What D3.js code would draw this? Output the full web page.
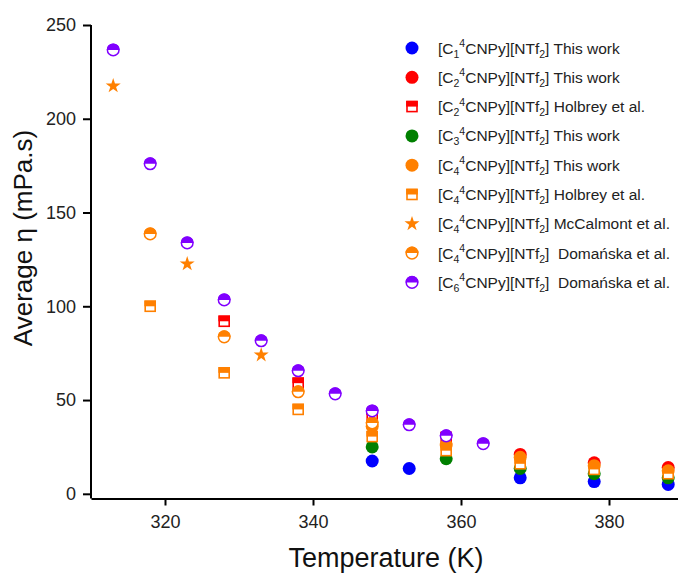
<!DOCTYPE html>
<html>
<head>
    <meta charset="utf-8">
    <style>
        body { margin: 0; background: white; }
        svg { font-family: 'Liberation Sans', Arial, sans-serif; }
    </style>
</head>
<body>
    <svg width="678" height="576"></svg>

<script src="https://d3js.org/d3.v7.min.js"></script>
<script>
    // values: [temperature K, viscosity mPa.s]
    let c1This = [[348, 17.5], [353, 13.5], [368, 8.5], [378, 6.5], [388, 5]]
    let c2This = [[368, 21], [378, 16.5], [388, 14]]
    let c2Holbrey = [[328, 92], [338, 59], [348, 42], [358, 30]]
    let c3This = [[348, 25], [358, 18.7], [368, 13.5], [378, 10.7], [388, 8.5]]
    let c4This = [[348, 36], [358, 26], [368, 19.5], [378, 15], [388, 12.3]]
    let c4Holbrey = [[318, 100], [328, 64.5], [338, 45], [348, 30.5], [358, 23], [368, 16], [378, 13], [388, 10.7]]
    let c4McCalmont = [[313, 217.5], [323, 122.6], [333, 74]]
    let c4Domanska = [[318, 138.6], [328, 83.7], [338, 54.4], [348, 37.8]]
    let c6Domanska = [[313, 236.7], [318, 176], [323, 133.8], [328, 103.4], [333, 81.6], [338, 65.6], [343, 53.3], [348, 44.2], [353, 36.8], [358, 30.9], [363, 26.7]]

    let xTicks = [320, 340, 360, 380]
    let yTicks = [0, 50, 100, 150, 200, 250]

    let series = [
        { n: "1", src: "This work", data: c1This, color: "#0000ff", shape: "circle" },
        { n: "2", src: "This work", data: c2This, color: "#ff0000", shape: "circle" },
        { n: "2", src: "Holbrey et al.", data: c2Holbrey, color: "#ff0000", shape: "halfsquare" },
        { n: "3", src: "This work", data: c3This, color: "#008000", shape: "circle" },
        { n: "4", src: "This work", data: c4This, color: "#ff8000", shape: "circle" },
        { n: "4", src: "Holbrey et al.", data: c4Holbrey, color: "#ff8000", shape: "halfsquare" },
        { n: "4", src: "McCalmont et al.", data: c4McCalmont, color: "#ff8000", shape: "star" },
        { n: "4", src: "\u00a0Domańska et al.", data: c4Domanska, color: "#ff8000", shape: "halfcircle" },
        { n: "6", src: "\u00a0Domańska et al.", data: c6Domanska, color: "#8000ff", shape: "halfcircle" }
    ]

    let svg = d3.select("svg")

    let x = d3.scaleLinear().domain([310, 390]).range([91, 683])
    let y = d3.scaleLinear().domain([-2.5, 250]).range([498.5, 25])

    // axes
    let xAxis = svg.append("g")
        .attr("transform", "translate(0," + y(-2.5) + ")")
        .call(d3.axisBottom(x).tickValues(xTicks).tickSize(7).tickSizeOuter(0).tickPadding(10))
    let yAxis = svg.append("g")
        .attr("transform", "translate(" + x(310) + ",0)")
        .call(d3.axisLeft(y).tickValues(yTicks).tickSize(8).tickSizeOuter(0).tickPadding(7))

    // make the y axis line start at 250 only
    yAxis.select(".domain").attr("d", "M0," + y(250) + "V" + y(-2.5))

    svg.selectAll(".domain, .tick line")
        .attr("stroke", "#000")
        .attr("stroke-width", 2)
    svg.selectAll(".tick text")
        .attr("font-family", "'Liberation Sans', Arial, sans-serif")
        .attr("font-size", 18)
        .attr("fill", "#222")

    svg.append("text")
        .attr("x", 386).attr("y", 567)
        .attr("text-anchor", "middle")
        .attr("font-size", 27)
        .attr("fill", "#111")
        .text("Temperature (K)")

    svg.append("text")
        .attr("transform", "translate(32,238) rotate(-90)")
        .attr("text-anchor", "middle")
        .attr("font-size", 26)
        .attr("fill", "#111")
        .text("Average η (mPa.s)")

    // marker drawing
    let star = d3.symbol().type(d3.symbolStar).size(70)

    function drawMarker(g, shape, color) {
        if (shape == "circle") {
            g.append("circle").attr("r", 6.5).attr("fill", color)
        } else if (shape == "halfcircle") {
            g.append("circle").attr("r", 5.8).attr("fill", "white")
                .attr("stroke", color).attr("stroke-width", 1.5)
            g.append("path").attr("d", "M-6.5,0A6.5,6.5 0 0 1 6.5,0Z").attr("fill", color)
        } else if (shape == "halfsquare") {
            g.append("rect").attr("x", -5).attr("y", -5).attr("width", 10).attr("height", 10)
                .attr("fill", "white").attr("stroke", color).attr("stroke-width", 1.6)
            g.append("rect").attr("x", -5.8).attr("y", -5.8).attr("width", 11.6).attr("height", 5.8)
                .attr("fill", color)
        } else if (shape == "star") {
            g.append("path").attr("d", star()).attr("fill", color)
        }
    }

    series.forEach(s => {
        svg.append("g")
            .selectAll("g")
            .data(s.data)
            .join("g")
            .attr("transform", d => "translate(" + x(d[0]) + "," + y(d[1]) + ")")
            .each(function () { drawMarker(d3.select(this), s.shape, s.color) })
    })

    // legend
    let legend = svg.append("g")
    series.forEach((s, i) => {
        let row = legend.append("g").attr("transform", "translate(412," + (48 + i * 29.3) + ")")
        drawMarker(row, s.shape, s.color)
        let t = row.append("text")
            .attr("x", 26).attr("y", 5.5)
            .attr("font-size", 15.5)
            .attr("fill", "#222")
        t.append("tspan").text("[C")
        t.append("tspan").attr("font-size", 10.5).attr("dy", 4).text(s.n)
        t.append("tspan").attr("font-size", 10.5).attr("dy", -10.5).text("4")
        t.append("tspan").attr("dy", 6.5).text("CNPy][NTf")
        t.append("tspan").attr("font-size", 10.5).attr("dy", 4).text("2")
        t.append("tspan").attr("dy", -4).text("] " + s.src)
    })
</script>
</body>
</html>
